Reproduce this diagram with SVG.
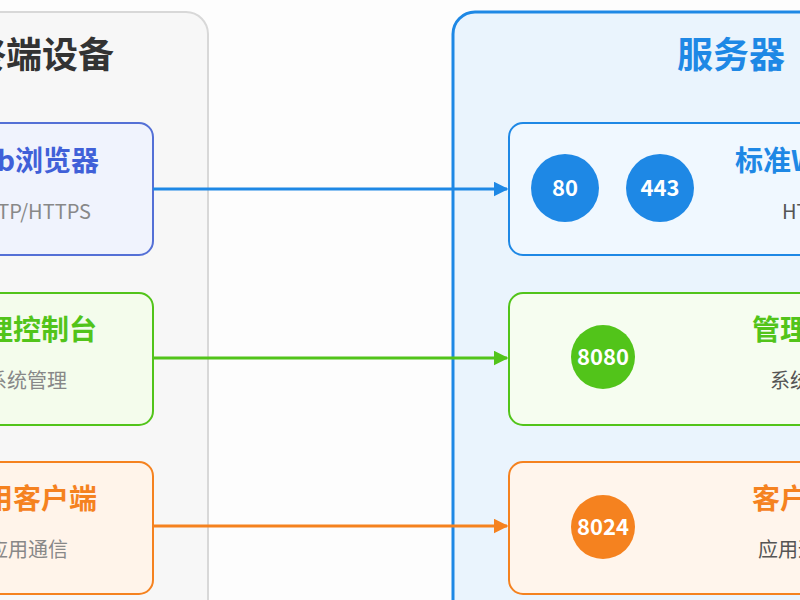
<svg xmlns="http://www.w3.org/2000/svg" width="800" height="600" viewBox="0 0 800 600">
<defs>
<style>
text{font-family:"Noto Sans CJK SC","Liberation Sans",sans-serif}
.h{font-size:36px;font-weight:bold}
.t{font-size:28px;font-weight:bold}
.s{font-size:20px;fill:#888}
.n{font-size:22px;font-weight:bold;fill:#fff;text-anchor:middle}
.e{text-anchor:end}
</style>
<marker id="ab" viewBox="0 0 10 10" refX="9" refY="5" markerWidth="5" markerHeight="5" orient="auto"><path d="M0,0L10,5L0,10z" fill="#1e88e5"/></marker>
<marker id="ag" viewBox="0 0 10 10" refX="9" refY="5" markerWidth="5" markerHeight="5" orient="auto"><path d="M0,0L10,5L0,10z" fill="#52c41a"/></marker>
<marker id="ao" viewBox="0 0 10 10" refX="9" refY="5" markerWidth="5" markerHeight="5" orient="auto"><path d="M0,0L10,5L0,10z" fill="#f5821f"/></marker>
</defs>
<rect width="800" height="600" fill="#fdfdfd"/>
<g id="clients">
<rect x="-40" y="12" width="248" height="640" rx="22" fill="#f7f7f7" stroke="#d8d8d8" stroke-width="2"/>
<text class="h e" x="114" y="68" fill="#333">终端设备</text>
</g>
<g id="server">
<rect x="453" y="12" width="400" height="640" rx="22" fill="#eaf4fd" stroke="#1e88e5" stroke-width="3"/>
<text class="h" x="677" y="68" fill="#1e88e5">服务器</text>
</g>
<g id="web">
<rect x="-40" y="123" width="193" height="132" rx="14" fill="#f0f3fd" stroke="#5470d6" stroke-width="2"/>
<text class="t e" x="99" y="171" fill="#4060d8">Web浏览器</text>
<text class="s e" x="91" y="219">HTTP/HTTPS</text>
</g>
<g id="admin">
<rect x="-40" y="293" width="193" height="132" rx="14" fill="#f4fcec" stroke="#52c41a" stroke-width="2"/>
<text class="t e" x="97" y="340" fill="#52c41a">管理控制台</text>
<text class="s e" x="67" y="388">系统管理</text>
</g>
<g id="app">
<rect x="-40" y="462" width="193" height="132" rx="14" fill="#fff4ea" stroke="#f5821f" stroke-width="2"/>
<text class="t e" x="97" y="509" fill="#f5821f">应用客户端</text>
<text class="s e" x="68" y="557">应用通信</text>
</g>
<g id="webport">
<rect x="509" y="123" width="340" height="132" rx="14" fill="#f0f8ff" stroke="#1e88e5" stroke-width="2"/>
<circle cx="565" cy="188" r="34" fill="#1e88e5"/><text class="n" x="565" y="196">80</text>
<circle cx="660" cy="188" r="34" fill="#1e88e5"/><text class="n" x="660" y="196">443</text>
<text class="t" x="735" y="171" fill="#1e88e5">标准Web端口</text>
<text class="s" x="782" y="219" style="fill:#555">HTTP/HTTPS</text>
</g>
<g id="adminport">
<rect x="509" y="293" width="340" height="132" rx="14" fill="#f6fdf0" stroke="#52c41a" stroke-width="2"/>
<circle cx="603" cy="357" r="32" fill="#52c41a"/><text class="n" x="603" y="365">8080</text>
<text class="t" x="752" y="340" fill="#52c41a">管理端口</text>
<text class="s" x="770" y="388" style="fill:#555">系统管理</text>
</g>
<g id="appport">
<rect x="509" y="462" width="340" height="132" rx="14" fill="#fff5ec" stroke="#f5821f" stroke-width="2"/>
<circle cx="603" cy="527" r="32" fill="#f5821f"/><text class="n" x="603" y="535">8024</text>
<text class="t" x="752" y="509" fill="#f5821f">客户端口</text>
<text class="s" x="758" y="557" style="fill:#555">应用通信</text>
</g>
<g id="connectors" stroke-width="3" fill="none">
<line x1="153" y1="189" x2="507" y2="189" stroke="#1e88e5" marker-end="url(#ab)"/>
<line x1="153" y1="358" x2="507" y2="358" stroke="#52c41a" marker-end="url(#ag)"/>
<line x1="153" y1="526" x2="507" y2="526" stroke="#f5821f" marker-end="url(#ao)"/>
</g>
</svg>
